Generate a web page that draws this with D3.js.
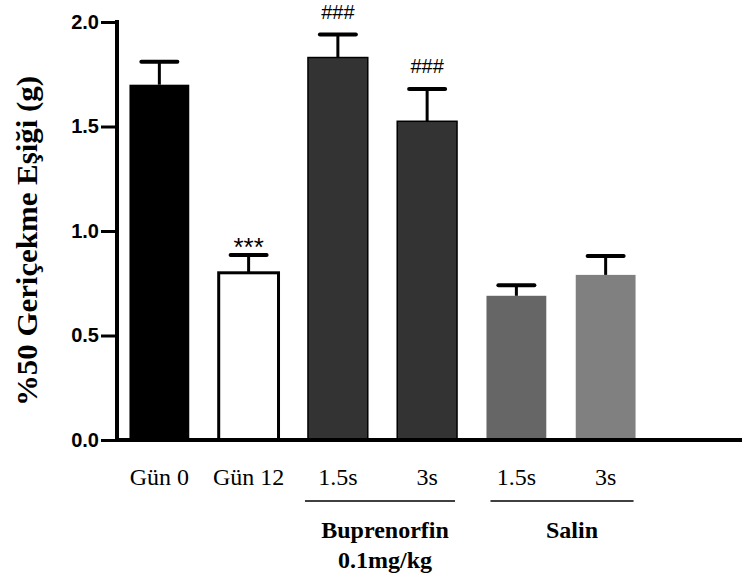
<!DOCTYPE html>
<html>
<head>
<meta charset="utf-8">
<script src="https://cdn.jsdelivr.net/npm/d3@7"></script>
<style>
body { margin: 0; background: #fff; }
</style>
</head>
<body>
<script>
const width = 742;
const height = 584;

// data
const categories = ["Gün 0", "Gün 12", "B 1.5s", "B 3s", "S 1.5s", "S 3s"];
const tickLabels = ["Gün 0", "Gün 12", "1.5s", "3s", "1.5s", "3s"];
const means = [1.70, 0.80, 1.83, 1.525, 0.69, 0.79];
const sems = [0.11, 0.085, 0.11, 0.155, 0.05, 0.09];
const barColors = ["#000000", "#ffffff", "#333333", "#333333", "#666666", "#808080"];
const barStrokes = [0, 3, 1.5, 1.5, 0, 0];
const marks = ["", "***", "###", "###", "", ""];
const yTicks = [0, 0.5, 1.0, 1.5, 2.0];
const groupNames = [["Buprenorfin", "0.1mg/kg"], ["Salin"]];
const groupStart = ["B 1.5s", "S 1.5s"];
const groupEnd = ["B 3s", "S 3s"];

const svg = d3.select("body").append("svg")
  .attr("width", width)
  .attr("height", height);

const x = d3.scaleBand().domain(categories).range([100, 665])
  .paddingInner(0.33).paddingOuter(0.33);
const y = d3.scaleLinear().domain([0, 2]).range([440, 22]);

const serif = "'Liberation Serif', 'Times New Roman', serif";
const sans = "'Liberation Sans', Arial, sans-serif";

// bars
svg.selectAll(".bar")
  .data(categories)
  .join("rect")
  .attr("class", "bar")
  .attr("x", d => x(d))
  .attr("width", x.bandwidth())
  .attr("y", (d, i) => y(means[i]))
  .attr("height", (d, i) => y(0) - y(means[i]))
  .attr("fill", (d, i) => barColors[i])
  .attr("stroke", "#000")
  .attr("stroke-width", (d, i) => barStrokes[i]);

// error bars + significance marks
const err = svg.append("g");
categories.forEach((c, i) => {
  const cx = x(c) + x.bandwidth() / 2;
  const top = y(means[i] + sems[i]);
  err.append("line")
    .attr("x1", cx).attr("x2", cx)
    .attr("y1", y(means[i])).attr("y2", top)
    .attr("stroke", "#000").attr("stroke-width", 3);
  err.append("line")
    .attr("x1", cx - 18).attr("x2", cx + 18)
    .attr("y1", top).attr("y2", top)
    .attr("stroke", "#000").attr("stroke-width", 4)
    .attr("stroke-linecap", "round");
  if (marks[i]) {
    const star = marks[i] === "***";
    svg.append("text")
      .attr("x", cx)
      .attr("y", star ? top + 1 : top - 16)
      .attr("text-anchor", "middle")
      .attr("font-family", sans)
      .attr("font-size", star ? "26px" : "20px")
      .attr("fill", "#000")
      .text(marks[i]);
  }
});

// y axis
const yAxis = svg.append("g")
  .attr("transform", "translate(117,0)")
  .call(d3.axisLeft(y).tickValues(yTicks).tickFormat(d3.format(".1f"))
    .tickSize(16).tickSizeOuter(0).tickPadding(2));
yAxis.select(".domain").attr("stroke", "#000").attr("stroke-width", 4)
  .attr("d", `M0,${y(0) + 2}V${y(2) - 2}`);
yAxis.selectAll(".tick line").attr("stroke", "#000").attr("stroke-width", 3);
yAxis.selectAll(".tick text")
  .attr("font-family", sans)
  .attr("font-weight", "bold")
  .attr("font-size", "20px")
  .attr("fill", "#000");

// x axis line
svg.append("line")
  .attr("x1", 115).attr("x2", width)
  .attr("y1", y(0)).attr("y2", y(0))
  .attr("stroke", "#000").attr("stroke-width", 4);

// x tick labels
svg.selectAll(".xlabel")
  .data(categories)
  .join("text")
  .attr("class", "xlabel")
  .attr("x", d => x(d) + x.bandwidth() / 2)
  .attr("y", 485)
  .attr("text-anchor", "middle")
  .attr("font-family", serif)
  .attr("font-size", "24px")
  .attr("fill", "#000")
  .text((d, i) => tickLabels[i]);

// group lines and labels
const linePad = [-3, 4];
const labelShift = [5, 10];
groupNames.forEach((g, i) => {
  const x1 = x(groupStart[i]) + linePad[i];
  const x2 = x(groupEnd[i]) + x.bandwidth() - 2;
  svg.append("line")
    .attr("x1", x1).attr("x2", x2)
    .attr("y1", 501).attr("y2", 501)
    .attr("stroke", "#000").attr("stroke-width", 1.5);
  const t = svg.append("text")
    .attr("text-anchor", "middle")
    .attr("font-family", serif)
    .attr("font-weight", "bold")
    .attr("font-size", "24px")
    .attr("fill", "#000");
  g.forEach((line, j) => {
    t.append("tspan")
      .attr("x", (x1 + x2) / 2 + labelShift[i])
      .attr("y", 538 + j * 30)
      .text(line);
  });
});

// y title
svg.append("text")
  .attr("transform", "translate(37,241) rotate(-90)")
  .attr("text-anchor", "middle")
  .attr("font-family", serif)
  .attr("font-weight", "bold")
  .attr("font-size", "29px")
  .attr("textLength", 330)
  .attr("lengthAdjust", "spacingAndGlyphs")
  .attr("fill", "#000")
  .text("%50 Geriçekme Eşiği (g)");
</script>
</body>
</html>
